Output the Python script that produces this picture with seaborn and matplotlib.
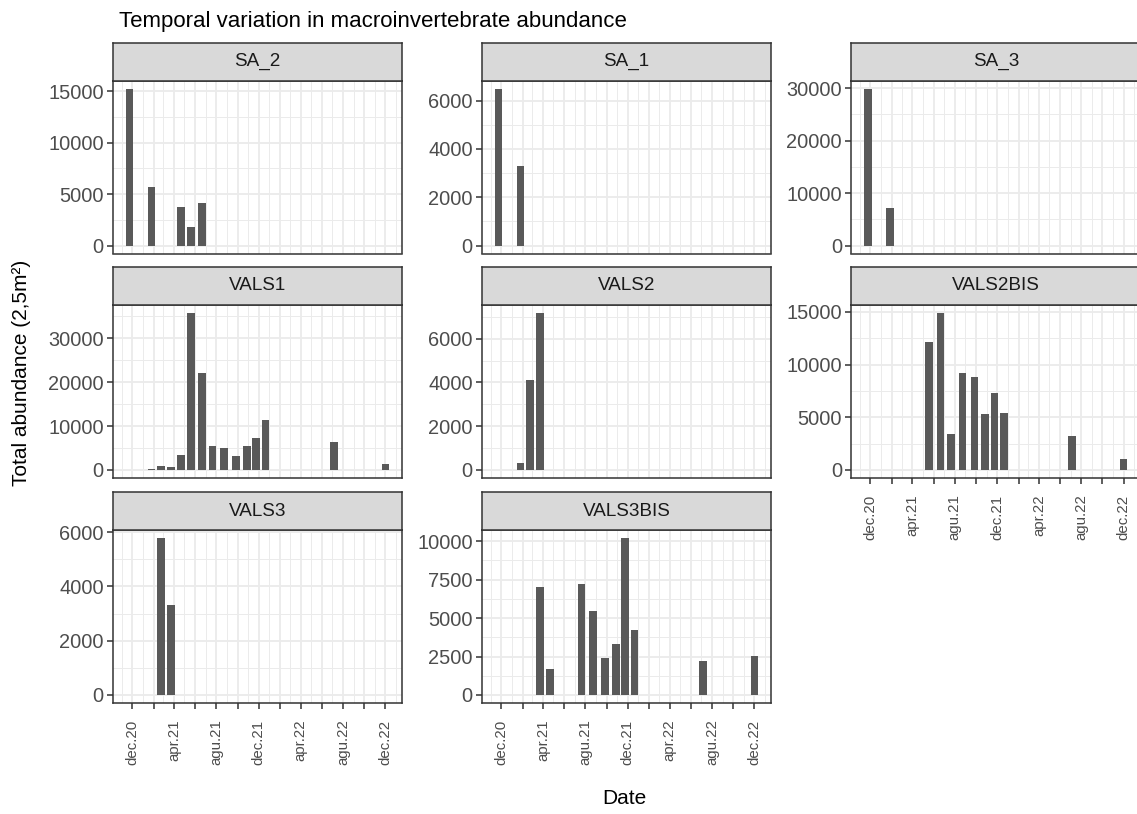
import numpy as np
import pandas as pd
import matplotlib
matplotlib.use("Agg")
import matplotlib.pyplot as plt
import matplotlib.dates as mdates
from matplotlib.ticker import MultipleLocator, AutoMinorLocator, FixedLocator, FixedFormatter, FormatStrFormatter
import seaborn as sns

sns.set_style("white")
plt.rcParams['font.family'] = ['Liberation Sans', 'DejaVu Sans']

# sampling sites in facet order
sites = ["SA_2", "SA_1", "SA_3", "VALS1", "VALS2", "VALS2BIS", "VALS3", "VALS3BIS"]

sa2_dates = ["2020-11-24", "2021-01-26", "2021-04-21", "2021-05-19", "2021-06-21"]
sa2_vals = [15250, 5700, 3800, 1770, 4100]

sa1_dates = ["2020-11-24", "2021-01-26"]
sa1_vals = [6500, 3300]

sa3_dates = ["2020-11-24", "2021-01-26"]
sa3_vals = [29900, 7200]

vals1_dates = ["2021-01-26", "2021-02-23", "2021-03-23", "2021-04-21", "2021-05-19", "2021-06-21",
               "2021-07-21", "2021-08-23", "2021-09-27", "2021-10-28", "2021-11-24", "2021-12-21",
               "2022-07-06", "2022-12-01"]
vals1_vals = [200, 830, 680, 3400, 35800, 22200, 5400, 5100, 3100, 5500, 7300, 11300, 6300, 1300]

vals2_dates = ["2021-01-26", "2021-02-23", "2021-03-23"]
vals2_vals = [330, 4120, 7180]

vals2bis_dates = ["2021-05-19", "2021-06-21", "2021-07-21", "2021-08-23", "2021-09-27", "2021-10-28",
                  "2021-11-24", "2021-12-21", "2022-07-06", "2022-12-01"]
vals2bis_vals = [12100, 14900, 3400, 9150, 8800, 5350, 7330, 5400, 3180, 1040]

vals3_dates = ["2021-02-23", "2021-03-23"]
vals3_vals = [5790, 3310]

vals3bis_dates = ["2021-03-23", "2021-04-21", "2021-07-21", "2021-08-23", "2021-09-27", "2021-10-28",
                  "2021-11-24", "2021-12-21", "2022-07-06", "2022-12-01"]
vals3bis_vals = [7030, 1660, 7200, 5470, 2390, 3300, 10220, 4250, 2220, 2520]

y_steps = [5000, 2000, 10000, 10000, 2000, 5000, 2000, 2500]

tick_dates = pd.date_range("2020-12-01", "2022-12-01", freq="2MS")
tick_labels = ["dec.20", "", "apr.21", "", "agu.21", "", "dec.21", "", "apr.22", "", "agu.22", "", "dec.22"]
minor_dates = pd.date_range("2020-11-01", "2023-01-01", freq="MS")

all_dates = [sa2_dates, sa1_dates, sa3_dates, vals1_dates, vals2_dates, vals2bis_dates, vals3_dates, vals3bis_dates]
all_vals = [sa2_vals, sa1_vals, sa3_vals, vals1_vals, vals2_vals, vals2bis_vals, vals3_vals, vals3bis_vals]

df = pd.concat([pd.DataFrame({"site": s, "date": pd.to_datetime(d), "abundance": v})
                for s, d, v in zip(sites, all_dates, all_vals)], ignore_index=True)
df["num"] = mdates.date2num(df["date"])

bar_days = 22
lo = df["num"].min() - bar_days / 2
hi = df["num"].max() + bar_days / 2
xlim = (lo - 0.05 * (hi - lo), hi + 0.05 * (hi - lo))

W, H = 1137, 814
fig = plt.figure(figsize=(W / 100, H / 100), dpi=100)

col_left = [112.7, 481.7, 851]
row_top = [80.7, 305, 530]
pw, ph, sh = 289.6, 172.8, 38
bar_col = "#595959"
dark = "#333333"
bottom_of_col = {"VALS3", "VALS3BIS", "VALS2BIS"}

for i, site in enumerate(sites):
    r, c = divmod(i, 3)
    x0 = col_left[c]
    y0 = row_top[r]
    ax = fig.add_axes([x0 / W, 1 - (y0 + ph) / H, pw / W, ph / H])
    sub = df[df.site == site]
    u = np.sort(sub["num"].unique())
    sns.barplot(data=sub, x="num", y="abundance", native_scale=True, width=bar_days / np.diff(u).min(),
                color=bar_col, saturation=1, errorbar=None, linewidth=0, ax=ax)
    ymax = sub["abundance"].max()
    ax.set_ylim(-0.05 * ymax, 1.05 * ymax)
    ax.set_xlim(xlim)
    ax.yaxis.set_major_locator(MultipleLocator(y_steps[i]))
    ax.yaxis.set_minor_locator(AutoMinorLocator(2))
    ax.yaxis.set_major_formatter(FormatStrFormatter("%d"))
    ax.xaxis.set_major_locator(FixedLocator(mdates.date2num(tick_dates)))
    ax.xaxis.set_major_formatter(FixedFormatter(tick_labels))
    ax.xaxis.set_minor_locator(FixedLocator(mdates.date2num(minor_dates)))
    ax.grid(which="major", color="#EBEBEB", lw=1.3)
    ax.grid(which="minor", color="#EBEBEB", lw=0.7)
    ax.set_axisbelow(True)
    ax.set_xlabel("")
    ax.set_ylabel("")
    for sp in ax.spines.values():
        sp.set_color(dark)
        sp.set_linewidth(1.1)
    ax.tick_params(axis="y", which="major", length=4, width=1.1, color=dark, pad=2.5,
                   labelsize=14.4, labelcolor="#4D4D4D", left=True)
    ax.tick_params(which="minor", length=0)
    if site in bottom_of_col:
        ax.tick_params(axis="x", which="major", length=4, width=1.1, color=dark, pad=8,
                       labelsize=10.8, labelcolor="#4D4D4D", bottom=True, labelrotation=90)
    else:
        ax.tick_params(axis="x", which="major", length=0, labelbottom=False)

    # facet strip
    sax = fig.add_axes([x0 / W, 1 - y0 / H, pw / W, sh / H])
    sax.set_facecolor("#D9D9D9")
    sax.set_xticks([])
    sax.set_yticks([])
    for sp in sax.spines.values():
        sp.set_color(dark)
        sp.set_linewidth(1.1)
    sax.text(0.5, 0.5, site, ha="center", va="center", fontsize=13.6, color="#1A1A1A", transform=sax.transAxes)

fig.text(119 / W, 1 - 27 / H, "Temporal variation in macroinvertebrate abundance", fontsize=16,
         color="black", va="baseline", ha="left")
fig.text(22 / W, 1 - 373 / H, "Total abundance (2,5m²)", rotation=90, ha="center", va="center",
         fontsize=15, color="black")
fig.text(624 / W, 1 - 798 / H, "Date", ha="center", va="center", fontsize=15, color="black")

fig.savefig("out.png", dpi=100)
